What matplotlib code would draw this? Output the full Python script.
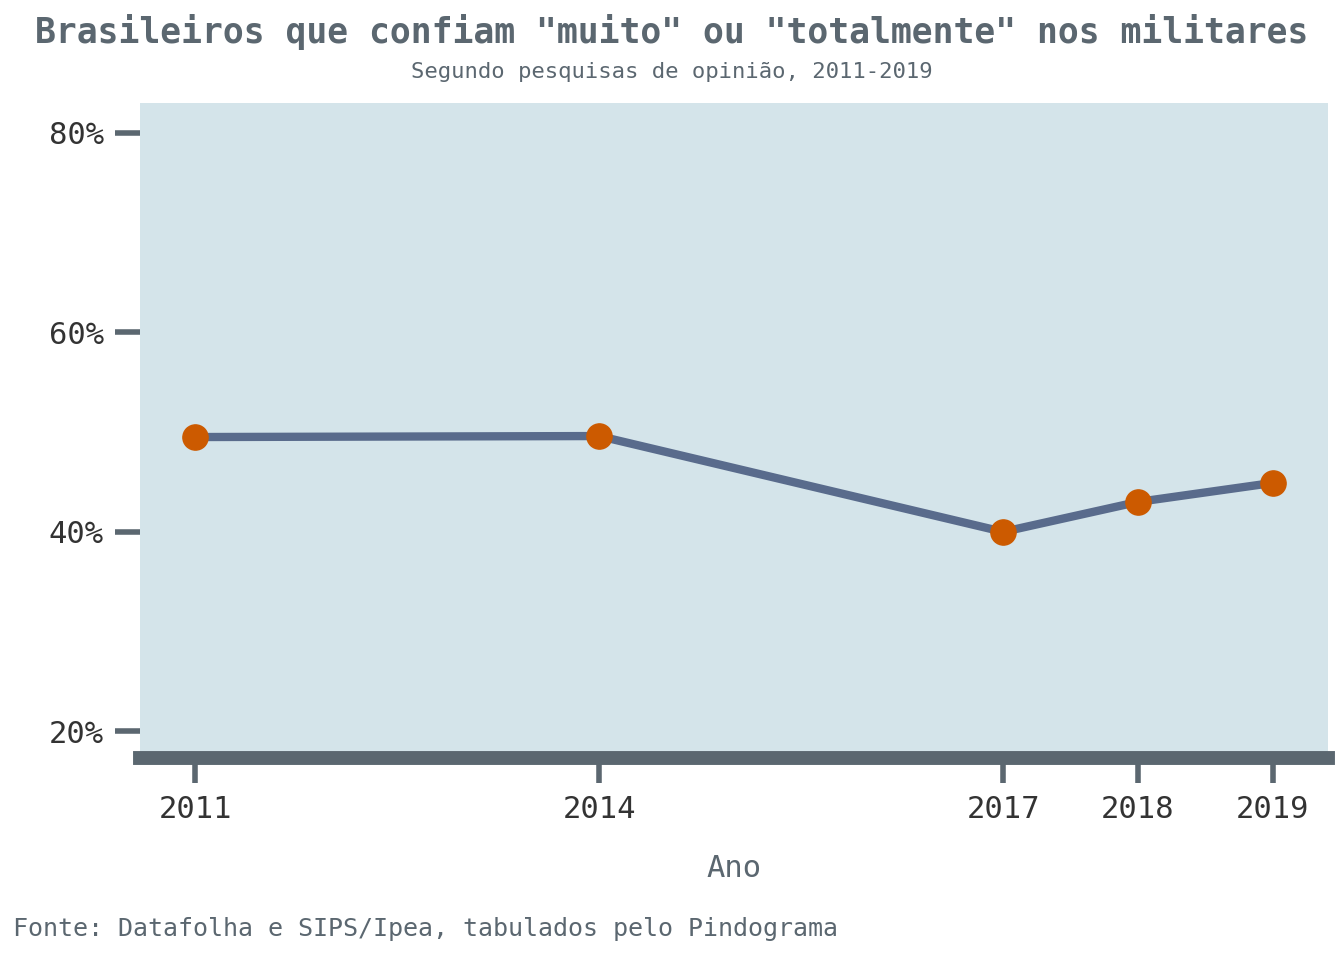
import matplotlib
matplotlib.use("Agg")
import matplotlib.pyplot as plt
from matplotlib.ticker import FuncFormatter

anos = [2011, 2014, 2017, 2018, 2019]
confianca = [49.5, 49.6, 40.0, 43.0, 44.9]
y_ticks = [20, 40, 60, 80]

plt.rcParams['font.family'] = ['DejaVu Sans Mono']
cinza = "#5b6770"
texto = "#333333"

fig = plt.figure(figsize=(13.44, 9.6), dpi=100)
ax = fig.add_axes([0.104, 0.21, 0.884, 0.683])
ax.set_facecolor("#d4e4ea")

ax.plot(anos, confianca, color="#596b8c", linewidth=6, zorder=2)
ax.scatter(anos, confianca, s=330, color="#cc5a00", zorder=3)

ax.set_xlim(2010.59, 2019.41)
ax.set_ylim(17.3, 83)
ax.set_xticks(anos)
ax.set_yticks(y_ticks)
ax.yaxis.set_major_formatter(FuncFormatter(lambda v, p: f"{v:.0f}%"))

for s in ["top", "right", "left"]:
    ax.spines[s].set_visible(False)
ax.spines["bottom"].set_color(cinza)
ax.spines["bottom"].set_linewidth(10)
ax.tick_params(axis="both", length=18, width=4, color=cinza,
               labelsize=22, labelcolor=texto, pad=8)

ax.set_xlabel("Ano", fontsize=22, color=cinza, labelpad=22)

fig.text(0.5, 0.985, 'Brasileiros que confiam "muito" ou "totalmente" nos militares',
         ha="center", va="top", fontsize=25, fontweight="bold", color=cinza)
fig.text(0.5, 0.935, "Segundo pesquisas de opinião, 2011-2019",
         ha="center", va="top", fontsize=16, color=cinza)
fig.text(0.01, 0.02, "Fonte: Datafolha e SIPS/Ipea, tabulados pelo Pindograma",
         ha="left", va="bottom", fontsize=18, color=cinza)

fig.savefig("out.png", dpi=100)
